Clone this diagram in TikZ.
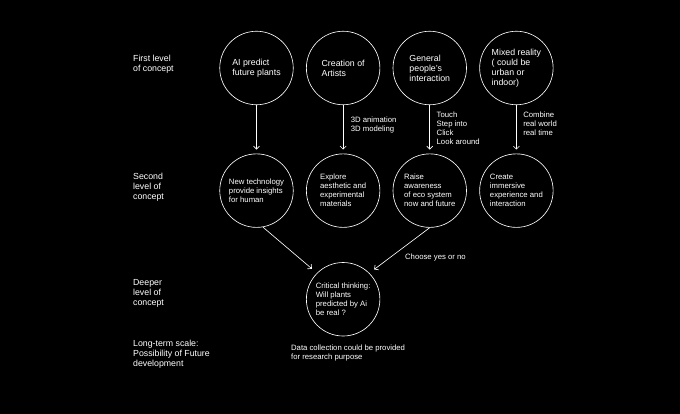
\documentclass[tikz,border=0pt]{standalone}
\usepackage{fontspec}
\setmainfont{Liberation Sans}
\usetikzlibrary{arrows.meta,positioning}
\tikzset{
  bigtxt/.style={font=\fontsize{12.5}{14.2}\selectfont},
  smalltxt/.style={font=\fontsize{11}{12.8}\selectfont},
  concept/.style={draw=white, circle, line width=0.9pt, minimum size=3.675cm, inner sep=0pt, align=left, text=white},
  lvl/.style={anchor=west, text=white, align=left, inner sep=0pt, bigtxt},
  note/.style={anchor=west, text=white, align=left, inner sep=0pt, smalltxt},
  arr/.style={-{Straight Barb[length=1.5mm,width=3mm]}, draw=white, line width=0.9pt, shorten >=0.2cm}
}

\begin{document}
\begin{tikzpicture}[x=0.05cm, y=-0.05cm]
  \fill[black] (0,0) rectangle (680,414);

  % level labels
  \node[lvl] (lvlfirst) at (133,64) {First level\\of concept};
  \node[lvl] (lvlsecond) at (133,187) {Second\\level of\\concept};
  \node[lvl] (lvldeep) at (133,293) {Deeper\\level of\\concept};
  \node[lvl] (lvllong) at (133,354) {Long-term scale:\\Possibility of Future\\development};

  % first level
  \node[concept, bigtxt] (ai) at (256.5,68) {AI predict\\future plants};
  \node[concept, bigtxt, right=0.625cm of ai] (artist) {Creation of\\Artists};
  \node[concept, bigtxt, right=0.625cm of artist] (people) {General\\people’s\\interaction};
  \node[concept, bigtxt, right=0.625cm of people] (mixed) {Mixed reality\\( could be\\urban or\\indoor)};

  % second level
  \node[concept, smalltxt, below=2.425cm of ai] (tech) {New technology\\provide insights\\for human};
  \node[concept, smalltxt, below=2.425cm of artist] (explore) {Explore\\aesthetic and\\experimental\\materials};
  \node[concept, smalltxt, below=2.425cm of people] (aware) {Raise\\awareness\\of eco system\\now and future};
  \node[concept, smalltxt, below=2.425cm of mixed] (immerse) {Create\\immersive\\experience and\\interaction};

  % deeper level
  \node[concept, smalltxt, below=1.725cm of explore] (critical) {Critical thinking:\\Will plants\\predicted by Ai\\be real ?};

  \draw[arr] (ai) -- (tech);
  \draw[arr] (artist) -- (explore) node[note, pos=0.42, xshift=0.37cm] (anim) {3D animation\\3D modeling};
  \draw[arr] (people) -- (aware) node[note, pos=0.47, xshift=0.33cm] (touch) {Touch\\Step into\\Click\\Look around};
  \draw[arr] (mixed) -- (immerse) node[note, pos=0.38, xshift=0.33cm] (combine) {Combine\\real world\\real time};

  \draw[arr, shorten >=0.33cm] (tech.-80) -- (critical.135);
  \draw[arr, shorten >=0.3cm] (aware.south) -- (critical.45);
  \node[note] (choose) at (405,257) {Choose yes or no};

  \node[note] (data) at (291,353) {Data collection could be provided\\for research purpose};
\end{tikzpicture}
\end{document}
